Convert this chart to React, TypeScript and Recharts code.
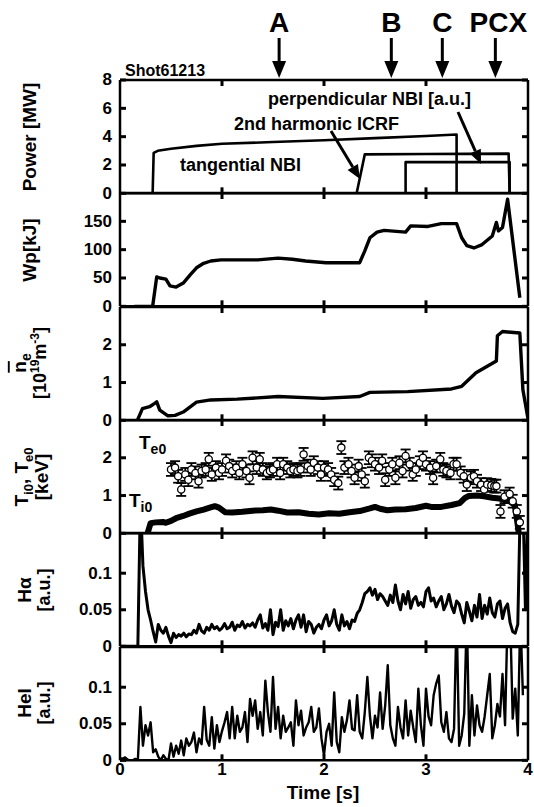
import React from "react";
import { ComposedChart, Line, Scatter, ErrorBar, XAxis, YAxis, ReferenceLine } from "recharts";

// ---- layout (plot box in page pixels)
const W = 534;
const H = 807;
const X0 = 120;
const X1 = 528;
const TOP = 80;
const PH = 113.33;
const FONT = "'Liberation Sans', Arial, Helvetica, sans-serif";

const TIME_TICKS = [0, 1, 2, 3, 4];

// ---- Power [MW]
const NBI_TAN_T = [0.32, 0.33, 0.37, 0.5, 0.75, 1.0, 1.5, 2.0, 2.5, 3.0, 3.3, 3.3];
const NBI_TAN_P = [0, 2.85, 3.0, 3.15, 3.35, 3.5, 3.62, 3.75, 3.9, 4.05, 4.15, 0];
const ICRF_T = [2.32, 2.4, 3.0, 3.81, 3.82];
const ICRF_P = [0, 2.75, 2.78, 2.8, 0];
const NBI_PERP_T = [2.8, 2.8, 3.82, 3.82];
const NBI_PERP_P = [0, 2.2, 2.2, 0];

// ---- Wp [kJ]
const WP_T = [0.14, 0.32, 0.36, 0.39, 0.45, 0.49, 0.55, 0.62, 0.69, 0.75, 0.82, 0.89, 0.99, 1.15, 1.35, 1.55, 1.69, 1.82, 2.02, 2.35, 2.4, 2.45, 2.52, 2.59, 2.8, 2.85, 3.02, 3.15, 3.3, 3.35, 3.4, 3.47, 3.55, 3.65, 3.69, 3.71, 3.75, 3.8, 3.92];
const WP_V = [0, 0, 52, 50, 48, 36, 34, 41, 56, 68, 76, 80, 82, 82, 82, 85, 83, 80, 77, 77, 98, 121, 131, 134, 131, 142, 141, 146, 146, 121, 107, 103, 109, 124, 148, 133, 139, 189, 15];

// ---- line averaged density [1e19 m^-3]
const NE_T = [0.17, 0.22, 0.29, 0.34, 0.36, 0.39, 0.47, 0.54, 0.62, 0.75, 0.89, 1.15, 1.55, 1.99, 2.35, 2.45, 2.82, 3.25, 3.35, 3.49, 3.69, 3.7, 3.75, 3.92, 3.95, 4.0];
const NE_V = [0, 0.31, 0.36, 0.45, 0.49, 0.27, 0.12, 0.13, 0.22, 0.48, 0.54, 0.56, 0.63, 0.58, 0.63, 0.74, 0.76, 0.83, 0.9, 1.26, 1.57, 2.24, 2.35, 2.31, 0.81, 0.04];

// ---- Ti0 [keV]
const TI_T = [0.27, 0.3, 0.35, 0.42, 0.45, 0.5, 0.55, 0.62, 0.68, 0.75, 0.82, 0.88, 0.93, 0.97, 1.03, 1.1, 1.2, 1.3, 1.4, 1.48, 1.55, 1.64, 1.75, 1.85, 1.95, 2.05, 2.15, 2.25, 2.35, 2.45, 2.5, 2.55, 2.62, 2.7, 2.8, 2.9, 3.0, 3.05, 3.15, 3.25, 3.33, 3.38, 3.42, 3.5, 3.57, 3.65, 3.72, 3.78, 3.82, 3.87, 3.89, 3.91];
const TI_V = [0, 0.27, 0.29, 0.3, 0.28, 0.33, 0.4, 0.46, 0.52, 0.58, 0.63, 0.68, 0.72, 0.68, 0.56, 0.55, 0.57, 0.6, 0.61, 0.63, 0.6, 0.55, 0.56, 0.52, 0.5, 0.53, 0.52, 0.56, 0.59, 0.66, 0.7, 0.65, 0.61, 0.63, 0.64, 0.67, 0.73, 0.7, 0.7, 0.75, 0.8, 0.93, 0.99, 1.0, 0.98, 0.94, 0.92, 0.88, 0.85, 0.75, 0.4, 0];

// ---- Te0 [keV] (points with error bars)
const TE_T = [0.5, 0.54, 0.57, 0.6, 0.64, 0.67, 0.7, 0.74, 0.77, 0.8, 0.84, 0.87, 0.9, 0.94, 0.97, 1.0, 1.04, 1.07, 1.1, 1.14, 1.17, 1.2, 1.24, 1.27, 1.3, 1.34, 1.37, 1.4, 1.44, 1.47, 1.5, 1.54, 1.57, 1.6, 1.64, 1.67, 1.7, 1.74, 1.77, 1.8, 1.84, 1.87, 1.9, 1.94, 1.97, 2.0, 2.04, 2.07, 2.1, 2.14, 2.17, 2.2, 2.24, 2.27, 2.3, 2.34, 2.37, 2.4, 2.44, 2.47, 2.5, 2.54, 2.57, 2.6, 2.64, 2.67, 2.7, 2.74, 2.77, 2.8, 2.84, 2.87, 2.9, 2.94, 2.97, 3.0, 3.04, 3.07, 3.1, 3.14, 3.17, 3.2, 3.24, 3.27, 3.3, 3.34, 3.37, 3.4, 3.44, 3.47, 3.5, 3.54, 3.57, 3.6, 3.64, 3.67, 3.69, 3.73, 3.77, 3.82, 3.85, 3.89, 3.92];
const TE_V = [1.69, 1.74, 1.51, 1.16, 1.56, 1.42, 1.69, 1.6, 1.38, 1.65, 1.69, 1.96, 1.56, 1.74, 1.6, 1.69, 1.92, 1.78, 1.65, 1.74, 1.6, 1.83, 1.65, 1.47, 2.0, 1.74, 1.96, 1.69, 1.6, 1.65, 1.69, 1.83, 1.6, 1.83, 1.74, 1.65, 1.69, 1.65, 1.69, 2.09, 1.78, 1.69, 1.87, 1.74, 1.56, 1.74, 1.69, 1.56, 1.42, 1.33, 2.27, 1.74, 1.83, 1.65, 1.47, 1.78, 1.56, 1.38, 2.0, 1.92, 1.83, 1.74, 1.92, 1.42, 1.69, 1.83, 1.47, 1.87, 1.65, 2.05, 1.83, 1.56, 1.69, 1.87, 2.0, 1.83, 1.74, 1.47, 1.78, 1.96, 1.69, 1.65, 1.6, 1.83, 1.83, 1.6, 1.51, 1.29, 1.47, 1.51, 1.38, 1.29, 1.16, 1.29, 1.27, 1.25, 1.25, 0.58, 0.97, 1.04, 0.85, 0.58, 0.29];
const TE_ERR = 0.17;

// ---- H-alpha [a.u.], sampled every 25 ms from t = 0
const HALPHA_DT = 0.025;
const HALPHA = [
  0, 0, 0, 0, 0, 0, 0, 0, 0.2, 0.11, 0.075, 0.05, 0.036, 0.02, 0.006, 0.03, 0.022, 0.018, 0.026, 0.014,
  0.005, 0.018, 0.012, 0.016, 0.014, 0.018, 0.013, 0.017, 0.016, 0.022, 0.018, 0.03, 0.021, 0.018, 0.026, 0.022, 0.03, 0.024, 0.027, 0.022,
  0.025, 0.031, 0.024, 0.026, 0.033, 0.022, 0.029, 0.027, 0.034, 0.025, 0.03, 0.028, 0.032, 0.026, 0.036, 0.043, 0.025, 0.031, 0.022, 0.05,
  0.016, 0.033, 0.027, 0.05, 0.022, 0.035, 0.028, 0.038, 0.024, 0.036, 0.043, 0.026, 0.043, 0.02, 0.034, 0.03, 0.018, 0.026, 0.03, 0.024,
  0.036, 0.043, 0.028, 0.035, 0.05, 0.03, 0.022, 0.043, 0.028, 0.034, 0.024, 0.036, 0.034, 0.045, 0.05, 0.06, 0.072, 0.075, 0.08, 0.07,
  0.078, 0.064, 0.072, 0.068, 0.062, 0.056, 0.07, 0.06, 0.084, 0.062, 0.05, 0.071, 0.058, 0.075, 0.052, 0.064, 0.068, 0.056, 0.06, 0.054,
  0.075, 0.08, 0.062, 0.066, 0.054, 0.062, 0.068, 0.05, 0.058, 0.071, 0.055, 0.046, 0.062, 0.058, 0.044, 0.032, 0.06, 0.048, 0.035, 0.056,
  0.04, 0.071, 0.038, 0.056, 0.044, 0.066, 0.046, 0.04, 0.058, 0.062, 0.038, 0.052, 0.058, 0.032, 0.02, 0.018, 0.03, 0.2, 0.2, 0.05,
  0.2,
];

// ---- HeI [a.u.], sampled every 25 ms from t = 0
const HEI_DT = 0.025;
const HEI = [
  0.003, 0.002, 0.004, 0.001, 0, 0, 0.002, 0, 0.073, 0.02, 0.048, 0.034, 0.052, 0.011, 0.015, 0.005, 0, 0.007, 0.002, 0,
  0.023, 0.005, 0.02, 0.009, 0.027, 0.007, 0.03, 0.02, 0.025, 0.038, 0.011, 0.03, 0.022, 0.073, 0.028, 0.02, 0.059, 0.016, 0.048, 0.025,
  0.04, 0.052, 0.066, 0.03, 0.073, 0.03, 0.061, 0.039, 0.045, 0.066, 0.025, 0.084, 0.061, 0.082, 0.043, 0.066, 0.034, 0.109, 0.066, 0.039,
  0.114, 0.043, 0.073, 0.03, 0.061, 0.039, 0.045, 0.052, 0.02, 0.082, 0.048, 0.068, 0.034, 0.045, 0.052, 0.073, 0.039, 0.045, 0.071, 0.03,
  0.007, 0.039, 0.05, 0.02, 0.093, 0.025, 0.011, 0.059, 0.039, 0.055, 0.082, 0.043, 0.041, 0.089, 0.039, 0.03, 0.066, 0.114, 0.061, 0.03,
  0.061, 0.045, 0.093, 0.043, 0.075, 0.13, 0.048, 0.03, 0.02, 0.073, 0.045, 0.03, 0.082, 0.034, 0.068, 0.045, 0.025, 0.098, 0.048, 0.02,
  0.098, 0.06, 0.048, 0.089, 0.105, 0.116, 0.052, 0.039, 0.066, 0.03, 0.025, 0.043, 0.2, 0.02, 0.034, 0.064, 0.2, 0.02, 0.089, 0.034,
  0.075, 0.048, 0.039, 0.06, 0.089, 0.118, 0.03, 0.048, 0.077, 0.06, 0.118, 0.048, 0.2, 0.2, 0.057, 0.098, 0.034, 0.2, 0.089,
];

const pairs = (ts: number[], vs: number[]) => ts.map((t, i) => ({ t, v: vs[i] }));
const sampled = (vs: number[], dt: number) => vs.map((v, i) => ({ t: +(i * dt).toFixed(3), v }));

const INK = "#000";
const FRAME_W = 2.5;
const TICK_PX = 6;

function LeftLabel(props: any) {
  const { x, y, payload } = props;
  return (
    <text x={x - 8} y={y} textAnchor="end" dominantBaseline="central" fontFamily={FONT} fontWeight="bold" fontSize={17} fill={INK}>
      {String(payload.value)}
    </text>
  );
}

function TimeLabel(props: any) {
  const { x, y, payload } = props;
  return (
    <text x={x} y={y + 15} textAnchor="middle" fontFamily={FONT} fontWeight="bold" fontSize={17} fill={INK}>
      {String(payload.value)}
    </text>
  );
}

// box + inward ticks, drawn in data space through the chart's own scales
function frame(ymax: number, yTicks: number[]) {
  const dx = (TICK_PX / (X1 - X0)) * 4;
  const dy = (TICK_PX / PH) * ymax;
  const ref = { xAxisId: "b", yAxisId: "l", stroke: INK, strokeWidth: FRAME_W, ifOverflow: "visible" as const };
  const out: any[] = [
    <ReferenceLine key="f-l" {...ref} x={0} />,
    <ReferenceLine key="f-r" {...ref} x={4} />,
    <ReferenceLine key="f-b" {...ref} y={0} />,
    <ReferenceLine key="f-t" {...ref} y={ymax} />,
  ];
  TIME_TICKS.slice(1, -1).forEach((t) => {
    out.push(<ReferenceLine key={`xb${t}`} {...ref} strokeWidth={3} segment={[{ x: t, y: 0 }, { x: t, y: dy }]} />);
    out.push(<ReferenceLine key={`xt${t}`} {...ref} strokeWidth={3} segment={[{ x: t, y: ymax }, { x: t, y: ymax - dy }]} />);
  });
  yTicks.forEach((v) => {
    out.push(<ReferenceLine key={`yl${v}`} {...ref} strokeWidth={3} segment={[{ x: 0, y: v }, { x: dx, y: v }]} />);
    out.push(<ReferenceLine key={`yr${v}`} {...ref} strokeWidth={3} segment={[{ x: 4 - dx, y: v }, { x: 4, y: v }]} />);
  });
  return out;
}

function Panel({ i, ymax, ticks, last = false, children }: any) {
  const pad = 14;
  const xh = last ? 30 : 0;
  return (
    <div style={{ position: "absolute", left: 0, top: TOP + i * PH - pad }}>
      <ComposedChart width={W} height={PH + 2 * pad + xh} margin={{ top: pad, right: W - X1, bottom: pad, left: 0 }}>
        <XAxis xAxisId="b" dataKey="t" type="number" domain={[0, 4]} ticks={TIME_TICKS} interval={0} allowDataOverflow
          height={xh} axisLine={false} tickLine={false} tickSize={0} tickMargin={0} tick={last ? TimeLabel : false} />
        <YAxis yAxisId="l" dataKey="v" type="number" domain={[0, ymax]} ticks={ticks} interval={0} allowDataOverflow
          width={X0} axisLine={false} tickLine={false} tickSize={0} tickMargin={0} tick={LeftLabel} />
        {children}
        {frame(ymax, ticks)}
      </ComposedChart>
    </div>
  );
}

const trace = (data: any[], width: number, name: string) => (
  <Line key={name} name={name} xAxisId="b" yAxisId="l" data={data} dataKey="v" type="linear" dot={false}
    stroke={INK} strokeWidth={width} strokeLinejoin="round" isAnimationActive={false} />
);

function TeDot(props: any) {
  const { cx, cy } = props;
  if (cx == null || cy == null) return null;
  return <circle cx={cx} cy={cy} r={3.6} fill="#fff" stroke={INK} strokeWidth={1.3} />;
}

function Arrow({ x1, y1, x2, y2, head = 14, half = 6, width = 3 }: any) {
  const a = Math.atan2(y2 - y1, x2 - x1);
  const bx = x2 - head * Math.cos(a);
  const by = y2 - head * Math.sin(a);
  const px = -Math.sin(a) * half;
  const py = Math.cos(a) * half;
  return (
    <g>
      <line x1={x1} y1={y1} x2={bx} y2={by} stroke={INK} strokeWidth={width} />
      <polygon points={`${x2},${y2} ${bx + px},${by + py} ${bx - px},${by - py}`} fill={INK} />
    </g>
  );
}

const xOf = (t: number) => X0 + (t / 4) * (X1 - X0);

const MARKERS = [
  { label: "A", t: 1.56 },
  { label: "B", t: 2.66 },
  { label: "C", t: 3.16 },
  { label: "PCX", t: 3.68 },
];

function RotLabel({ cx, cy, size = 18, children }: any) {
  return (
    <text transform={`translate(${cx + size * 0.36},${cy}) rotate(-90)`} textAnchor="middle" fontSize={size}>
      {children}
    </text>
  );
}

export default function App() {
  const teData = TE_T.map((t, i) => ({ t, v: TE_V[i], err: TE_ERR }));
  return (
    <div style={{ position: "absolute", left: 0, top: 0, width: W, height: H, background: "#fff" }}>
      <Panel i={0} ymax={8} ticks={[0, 2, 4, 6, 8]}>
        {trace(pairs(NBI_TAN_T, NBI_TAN_P), 2.6, "tan")}
        {trace(pairs(ICRF_T, ICRF_P), 2.6, "icrf")}
        {trace(pairs(NBI_PERP_T, NBI_PERP_P), 2.6, "perp")}
      </Panel>
      <Panel i={1} ymax={200} ticks={[0, 50, 100, 150]}>
        {trace(pairs(WP_T, WP_V), 3.4, "wp")}
      </Panel>
      <Panel i={2} ymax={3} ticks={[0, 1, 2]}>
        {trace(pairs(NE_T, NE_V), 3.4, "ne")}
      </Panel>
      <Panel i={3} ymax={3} ticks={[0, 1, 2]}>
        {trace(pairs(TI_T, TI_V), 6, "ti")}
        <Scatter xAxisId="b" yAxisId="l" data={teData} dataKey="v" shape={TeDot} isAnimationActive={false}>
          <ErrorBar dataKey="err" direction="y" width={5} stroke={INK} strokeWidth={1.8} isAnimationActive={false} />
        </Scatter>
      </Panel>
      <Panel i={4} ymax={0.155} ticks={[0, 0.05, 0.1]}>
        {trace(sampled(HALPHA, HALPHA_DT), 3, "ha")}
      </Panel>
      <Panel i={5} ymax={0.155} ticks={[0, 0.05, 0.1]} last>
        {trace(sampled(HEI, HEI_DT), 2.4, "hei")}
      </Panel>

      <svg width={W} height={H} style={{ position: "absolute", left: 0, top: 0, pointerEvents: "none" }}>
        <g fontFamily={FONT} fontWeight="bold" fill={INK}>
          <text x={125} y={76} fontSize={16}>Shot61213</text>

          {MARKERS.map((m) => (
            <g key={m.label}>
              <text x={xOf(m.t) + (m.label === "PCX" ? 3 : 0)} y={32} textAnchor="middle" fontSize={28}>{m.label}</text>
              <Arrow x1={xOf(m.t)} y1={38} x2={xOf(m.t)} y2={78} head={17} half={7} width={3} />
            </g>
          ))}

          <text x={268} y={105} fontSize={18}>perpendicular NBI [a.u.]</text>
          <text x={234} y={130} fontSize={18}>2nd harmonic ICRF</text>
          <text x={180} y={171} fontSize={18}>tangential NBI</text>
          <Arrow x1={331} y1={131} x2={360} y2={179} head={14} half={6} width={3} />
          <Arrow x1={458} y1={112} x2={481} y2={164} head={14} half={6} width={3} />

          <RotLabel cx={29} cy={137} size={19}>Power [MW]</RotLabel>
          <RotLabel cx={29} cy={250} size={19}>Wp[kJ]</RotLabel>

          <RotLabel cx={19} cy={363} size={19}>
            <tspan textDecoration="overline">n</tspan>
            <tspan fontSize={14} dy={5}>e</tspan>
          </RotLabel>
          <RotLabel cx={40} cy={363} size={18}>
            [10<tspan fontSize={12} dy={-7}>19</tspan><tspan dy={7}>m</tspan><tspan fontSize={12} dy={-7}>-3</tspan><tspan dy={7}>]</tspan>
          </RotLabel>

          <RotLabel cx={21} cy={477} size={19}>
            T<tspan fontSize={13} dy={5}>i0</tspan><tspan dy={-5}>, T</tspan><tspan fontSize={13} dy={5}>e0</tspan>
          </RotLabel>
          <RotLabel cx={41} cy={477} size={19}>[keV]</RotLabel>

          <RotLabel cx={24} cy={590} size={19}>Hα</RotLabel>
          <RotLabel cx={44} cy={590} size={18}>[a.u.]</RotLabel>

          <RotLabel cx={24} cy={703} size={19}>HeI</RotLabel>
          <RotLabel cx={44} cy={703} size={18}>[a.u.]</RotLabel>

          <text x={139} y={449} fontSize={19}>T<tspan fontSize={14} dy={5}>e0</tspan></text>
          <text x={129} y={507} fontSize={19}>T<tspan fontSize={14} dy={5}>i0</tspan></text>

          <text x={323} y={799} textAnchor="middle" fontSize={19}>Time [s]</text>
        </g>
      </svg>
    </div>
  );
}
